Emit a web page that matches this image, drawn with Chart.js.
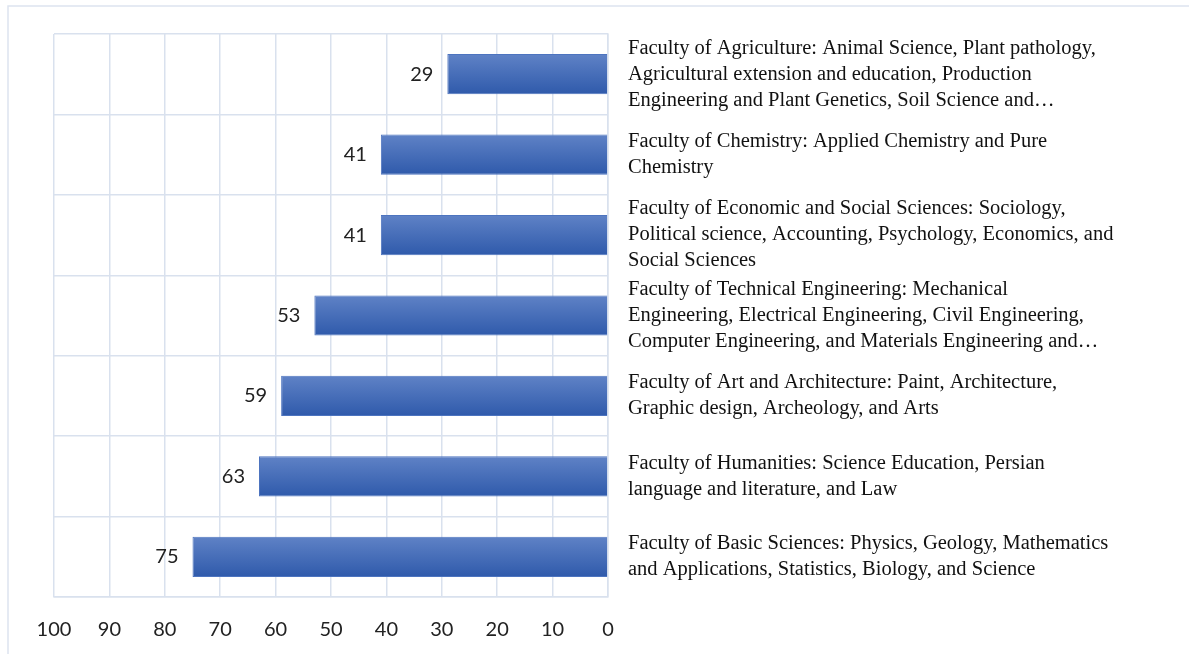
<!DOCTYPE html>
<html>
<head>
<meta charset="utf-8">
<script src="https://cdn.jsdelivr.net/npm/chart.js@4"></script>
<style>
  html, body { margin: 0; padding: 0; background: #fff; }
  #wrap { width: 1189px; height: 654px; position: relative; }
</style>
</head>
<body>
<div id="wrap"><canvas id="facultyChart" width="1189" height="654"></canvas></div>
<script>
// faculties, top to bottom
const categories = [
    ['Faculty of Agriculture: Animal Science, Plant pathology,', 'Agricultural extension and education, Production', 'Engineering and Plant Genetics, Soil Science and\u2026'],
    ['Faculty of Chemistry: Applied Chemistry and Pure', 'Chemistry'],
    ['Faculty of Economic and Social Sciences: Sociology,', 'Political science, Accounting, Psychology, Economics, and', 'Social Sciences'],
    ['Faculty of Technical Engineering: Mechanical', 'Engineering, Electrical Engineering, Civil Engineering,', 'Computer Engineering, and Materials Engineering and\u2026'],
    ['Faculty of Art and Architecture: Paint, Architecture,', 'Graphic design, Archeology, and Arts'],
    ['Faculty of Humanities: Science Education, Persian', 'language and literature, and Law'],
    ['Faculty of Basic Sciences: Physics, Geology, Mathematics', 'and Applications, Statistics, Biology, and Science']
];
const values = [29, 41, 41, 53, 59, 63, 75];

const gridColor = '#d9e1ee';
const numFont = 'Lato, "Liberation Sans", sans-serif';

// gradient per bar, lighter on top
function barFill(context) {
    const chart = context.chart;
    const y = chart.scales.y;
    if (!chart.chartArea || !y) return '#4470bb';
    const center = y.getPixelForValue(context.dataIndex);
    const half = (chart.chartArea.bottom - chart.chartArea.top) / categories.length * 0.25;
    const g = chart.ctx.createLinearGradient(0, center - half, 0, center + half);
    g.addColorStop(0, '#5f82c6');
    g.addColorStop(1, '#2f5aab');
    return g;
}

// outer frame + value labels
const extras = {
    id: 'extras',
    beforeDraw(chart) {
        const ctx = chart.ctx;
        ctx.save();
        ctx.strokeStyle = '#dde4ef';
        ctx.lineWidth = 1.5;
        ctx.beginPath();
        ctx.moveTo(8, 654);
        ctx.lineTo(8, 6);
        ctx.lineTo(1189, 6);
        ctx.stroke();
        ctx.restore();
    },
    afterDatasetsDraw(chart) {
        const ctx = chart.ctx;
        const meta = chart.getDatasetMeta(0);
        ctx.save();
        ctx.font = '20px ' + numFont;
        ctx.fillStyle = '#222';
        ctx.textAlign = 'right';
        ctx.textBaseline = 'middle';
        meta.data.forEach((bar, i) => {
            ctx.fillText(values[i], bar.x - 14, bar.y);
        });
        ctx.restore();
    }
};

const ctx = document.getElementById('facultyChart');
const facultyChart = new Chart(ctx, {
    type: 'bar',
    data: {
        labels: categories,
        datasets: [{
            data: values,
            backgroundColor: barFill,
            borderColor: '#4d74bf',
            borderWidth: 1,
            barPercentage: 0.5,
            categoryPercentage: 1
        }]
    },
    options: {
        indexAxis: 'y',
        responsive: false,
        animation: false,
        layout: {
            padding: { top: 34, left: 54, right: 0, bottom: 11 }
        },
        plugins: {
            legend: { display: false },
            tooltip: { enabled: false }
        },
        scales: {
            x: {
                reverse: true,
                min: 0,
                max: 100,
                ticks: {
                    stepSize: 10,
                    padding: 21,
                    maxRotation: 0,
                    color: '#222',
                    font: { family: numFont, size: 20 }
                },
                grid: { color: gridColor, lineWidth: 1.5, drawTicks: false },
                border: { display: true, color: gridColor, width: 1.5 },
                afterFit(scale) {
                    scale.height = 46;
                }
            },
            y: {
                position: 'right',
                ticks: {
                    padding: 20,
                    autoSkip: false,
                    crossAlign: 'near',
                    color: '#111',
                    font: { family: '"Liberation Serif", "Times New Roman", serif', size: 20.5, lineHeight: 1.27 }
                },
                grid: { color: gridColor, lineWidth: 1.5, drawTicks: false },
                border: { display: true, color: gridColor, width: 1.5 },
                afterFit(scale) {
                    scale.width = 581;
                    scale.paddingTop = 0;
                    scale.paddingBottom = 0;
                }
            }
        }
    },
    plugins: [extras]
});
</script>
</body>
</html>
